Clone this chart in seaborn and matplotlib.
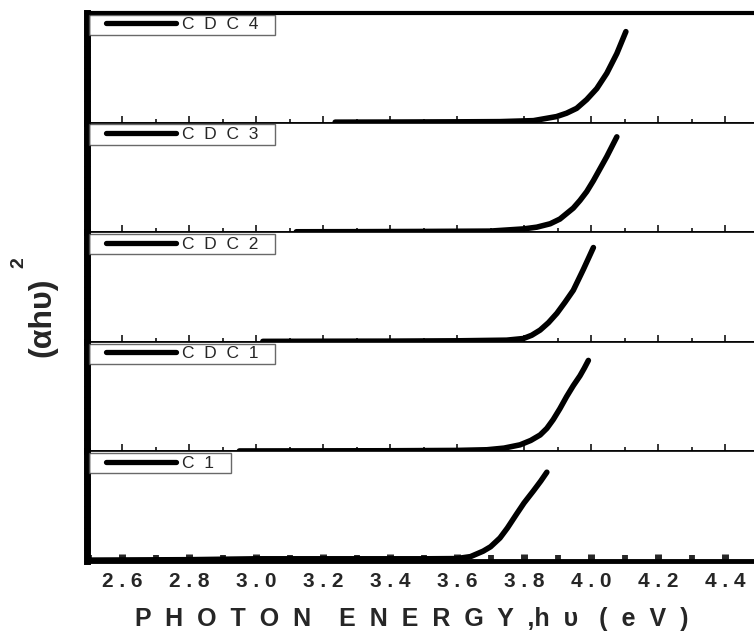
import numpy as np
import pandas as pd
import matplotlib
matplotlib.use("Agg")
import matplotlib.pyplot as plt
import seaborn as sns
from matplotlib.ticker import FixedLocator, FixedFormatter, MultipleLocator
from matplotlib.legend_handler import HandlerLine2D

sns.set_style("ticks")
plt.rcParams["font.family"] = ["Liberation Sans", "DejaVu Sans"]

# ---- data (top panel first) ----
labels = ["C  D  C  4", "C  D  C  3", "C  D  C  2", "C  D  C  1", "C  1"]

cdc4_x = [3.236, 3.4, 3.6, 3.728, 3.828, 3.897, 3.927, 3.957, 3.987, 4.017,
          4.047, 4.077, 4.104]
cdc4_y = [0.004, 0.005, 0.007, 0.009, 0.018, 0.055, 0.086, 0.13, 0.21, 0.31,
          0.45, 0.63, 0.83]

cdc3_x = [3.12, 3.3, 3.5, 3.698, 3.798, 3.838, 3.878, 3.907, 3.927, 3.947,
          3.967, 3.987, 4.007, 4.027, 4.047, 4.062, 4.077]
cdc3_y = [0.004, 0.005, 0.007, 0.01, 0.03, 0.046, 0.077, 0.12, 0.17, 0.22,
          0.29, 0.37, 0.47, 0.58, 0.69, 0.78, 0.87]

cdc2_x = [3.02, 3.2, 3.4, 3.6, 3.748, 3.798, 3.823, 3.848, 3.873, 3.898,
          3.922, 3.947, 3.962, 3.977, 3.992, 4.007]
cdc2_y = [0.004, 0.005, 0.006, 0.009, 0.015, 0.03, 0.06, 0.107, 0.175, 0.26,
          0.36, 0.47, 0.565, 0.66, 0.76, 0.86]

cdc1_x = [2.95, 3.2, 3.4, 3.6, 3.689, 3.74, 3.788, 3.82, 3.848, 3.868, 3.887,
          3.907, 3.927, 3.947, 3.967, 3.98, 3.992]
cdc1_y = [0.004, 0.005, 0.006, 0.009, 0.015, 0.03, 0.06, 0.10, 0.15, 0.21,
          0.29, 0.39, 0.50, 0.60, 0.69, 0.76, 0.83]

c1_x = [2.5, 2.8, 3.0, 3.3, 3.5, 3.599, 3.64, 3.678, 3.70, 3.728, 3.75,
        3.778, 3.80, 3.828, 3.85, 3.868]
c1_y = [0.008, 0.012, 0.02, 0.02, 0.02, 0.022, 0.04, 0.09, 0.13, 0.21, 0.30,
        0.43, 0.53, 0.64, 0.73, 0.81]

series = [(cdc4_x, cdc4_y), (cdc3_x, cdc3_y), (cdc2_x, cdc2_y),
          (cdc1_x, cdc1_y), (c1_x, c1_y)]

tick_vals = [2.6, 2.8, 3.0, 3.2, 3.4, 3.6, 3.8, 4.0, 4.2, 4.4]
tick_labels = ["2 . 6", "2 . 8", "3 . 0", "3 . 2", "3 . 4", "3 . 6",
               "3 . 8", "4 . 0", "4 . 2", "4 . 4"]


class InsetLine(HandlerLine2D):
    def create_artists(self, legend, orig_handle, xdescent, ydescent,
                       width, height, fontsize, trans):
        arts = super().create_artists(legend, orig_handle, xdescent,
                                      ydescent, width, height, fontsize,
                                      trans)
        line = arts[0]
        xd = np.asarray(line.get_xdata(), float)
        yd = np.asarray(line.get_ydata(), float)
        x0, x1 = xd.min(), xd.max()
        line.set_data([x0 + 0.17 * (x1 - x0), x1], [yd[0], yd[0]])
        return arts


W, H = 754, 633
fig = plt.figure(figsize=(W / 100, H / 100), dpi=100)

left_px, right_px = 87, 792
top_px, bot_px = 13, 561
ph = (bot_px - top_px) / 5

for i, ((xs, ys), lab) in enumerate(zip(series, labels)):
    ytop = top_px + i * ph
    ax = fig.add_axes([left_px / W, 1 - (ytop + ph) / H,
                       (right_px - left_px) / W, ph / H])
    df = pd.DataFrame({"x": xs, "y": ys})
    sns.lineplot(data=df, x="x", y="y", ax=ax, color="black", lw=4.0,
                 sort=False, estimator=None, label=lab + "   ",
                 solid_capstyle="round", solid_joinstyle="round")
    ax.set_xlim(2.495, 4.6)
    ax.set_ylim(0, 1)
    ax.set_xlabel("")
    ax.set_ylabel("")
    ax.xaxis.set_major_locator(FixedLocator(tick_vals))
    ax.xaxis.set_minor_locator(MultipleLocator(0.1))
    ax.yaxis.set_major_locator(FixedLocator([]))
    ax.yaxis.set_minor_locator(MultipleLocator(0.1))
    ax.tick_params(axis="y", which="minor", direction="inout", length=4,
                   width=1, labelleft=False)
    for s in ["top", "right", "bottom", "left"]:
        ax.spines[s].set_color("black")
    ax.spines["left"].set_linewidth(5)
    ax.spines["right"].set_visible(False)
    ax.spines["top"].set_linewidth(3 if i == 0 else 1.2)
    if i == 4:
        ax.spines["bottom"].set_linewidth(3.5)
        ax.xaxis.set_major_formatter(FixedFormatter(tick_labels))
        ax.tick_params(axis="x", which="major", direction="in", length=5,
                       width=5, pad=8, labelsize=15)
        ax.tick_params(axis="x", which="minor", direction="in", length=4,
                       width=4.2)
        for t in ax.get_xticklabels():
            t.set_fontweight("bold")
    else:
        ax.spines["bottom"].set_linewidth(1.2)
        ax.tick_params(axis="x", which="major", direction="in", length=5,
                       width=1.3, labelbottom=False)
        ax.tick_params(axis="x", which="minor", direction="in", length=3,
                       width=1.3)
    handles, hl = ax.get_legend_handles_labels()
    leg = ax.legend(handles, hl, loc="upper left", bbox_to_anchor=(0.0, 1.0),
                    borderaxespad=0.1, frameon=True, fancybox=False,
                    edgecolor="#444444", fontsize=12.5, handlelength=4.9,
                    handletextpad=0.3, borderpad=0.15,
                    handler_map={handles[0]: InsetLine()})
    leg.get_frame().set_linewidth(1.0)
    for ln in leg.get_lines():
        ln.set_linewidth(3.8)
        ln.set_solid_capstyle("round")

fig.text(412 / W, 1 - 619 / H,
         "P  H  O  T  O  N    E  N  E  R  G  Y  ,h  υ   (  e  V  )",
         ha="center", va="center", fontsize=18, fontweight="bold")
fig.text(42 / W, 1 - 317 / H, "(αhυ)", rotation=90, ha="center",
         va="center", fontsize=23, fontweight="bold")
fig.text(19 / W, 1 - 263 / H, "2", rotation=90, ha="center",
         va="center", fontsize=14, fontweight="bold")

fig.savefig("out.png", dpi=100)
